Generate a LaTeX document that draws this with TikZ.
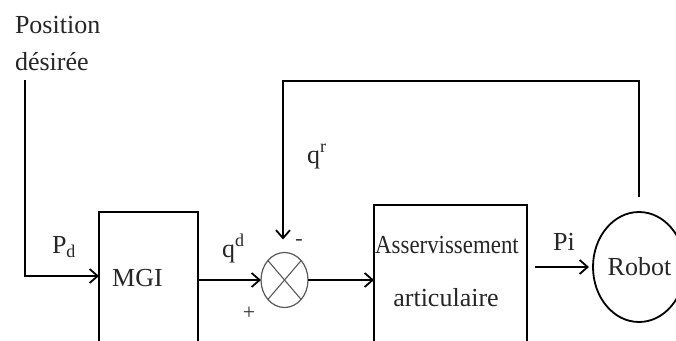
\documentclass[tikz,border=0pt]{standalone}
\usepackage{fontspec}
\setmainfont{Liberation Serif}
\usetikzlibrary{arrows.meta,shapes.geometric}
\begin{document}
\begin{tikzpicture}[x=1pt,y=-1pt,
  every node/.style={inner sep=0pt,outer sep=0pt,font=\fontsize{26}{37}\selectfont},
  wire/.style={line width=2pt,draw=black},
  arr/.style={wire,-{Straight Barb[length=8pt,width=14pt,line width=1.8pt]}},
  blockbox/.style={draw=black,line width=2pt,rectangle},
  lbl/.style={anchor=base,text=black!85}]
\useasboundingbox (0,0) rectangle (676,340);
\clip (0,0) rectangle (676,340);
\fill[white] (0,0) rectangle (676,340);
% blocks
\node[blockbox,minimum width=99pt,minimum height=160pt] (mgi) at (148.5,292) {};
\node[blockbox,minimum width=153pt,minimum height=170pt] (asv) at (450.5,290) {};
\node[draw=black,line width=1.8pt,ellipse,minimum width=92pt,minimum height=110pt] (robot) at (639,267) {};
\node[draw=black!65,line width=1.2pt,ellipse,minimum width=47pt,minimum height=55pt] (sum) at (284.5,280) {};
\draw[black!65,line width=1.1pt] (sum.north west) -- (sum.south east) (sum.north east) -- (sum.south west);
% texts
\node[anchor=base west,text=black!85] (pos) at (15,33) {Position};
\node[anchor=base west,text=black!85] (des) at (15,70) {désirée};
\node[lbl] (mgit) at (137.5,286) {MGI};
\node[lbl] (asvt1) at (447,253) {\scalebox{0.88}[1]{Asservissement}};
\node[lbl] (asvt2) at (446,306) {articulaire};
\node[lbl] (robt) at (639.5,275) {Robot};
\node[lbl] (pit) at (564,250) {Pi};
\node[anchor=base west,text=black!85] (pdt) at (52,253) {P\raisebox{-0.35ex}{\fontsize{18}{20}\selectfont d}};
\node[anchor=base west,text=black!85] (qdt) at (222,257) {q\raisebox{0.9ex}{\fontsize{18}{20}\selectfont d}};
\node[anchor=base west,text=black!85] (qrt) at (307,163) {q\raisebox{0.9ex}{\fontsize{18}{20}\selectfont r}};
\node[text=black!80,font=\fontsize{22}{24}\selectfont] (plus) at (249,313) {+};
\node[text=black!80,font=\fontsize{22}{24}\selectfont] (minus) at (299,242) {-};
% connectors
\coordinate (pdtop) at (25,80);
\coordinate (pdcorner) at (25,276);
\draw[arr] (pdtop) -- (pdcorner) -- (mgi.west |- pdcorner);
\draw[arr] (mgi.east |- sum.west) -- (sum.west);
\draw[arr] (sum.east) -- (asv.west |- sum.east);
\coordinate (pistart) at (535,267);
\draw[arr,shorten >=4pt] (pistart) -- (robot.west);
\coordinate (fbtop) at (283,81);
\draw[arr] ([yshift=15pt]robot.north) |- (fbtop) -- ([yshift=13pt]sum.north -| fbtop);
\end{tikzpicture}
\end{document}
